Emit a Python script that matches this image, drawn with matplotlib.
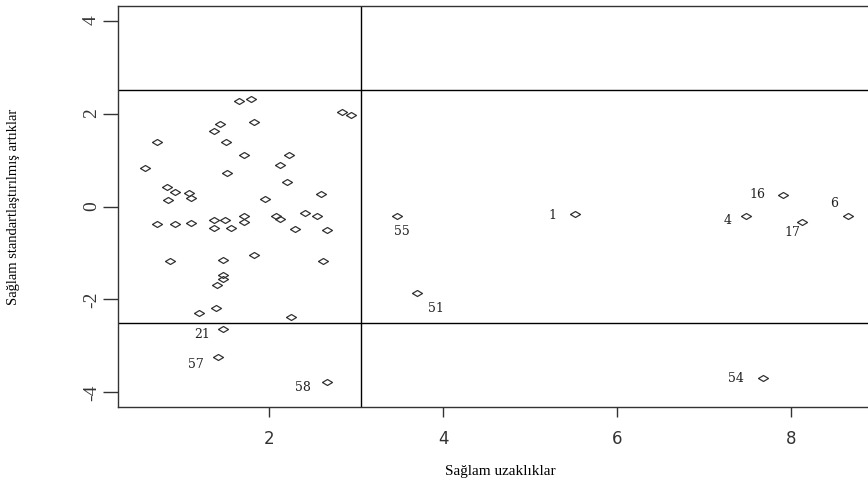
"""
Robust distance–residual diagnostic plot (Sağlam uzaklıklar vs. standartlaştırılmış artıklar).
"""
import matplotlib
matplotlib.use("Agg")
import matplotlib.pyplot as plt

plt.rcParams["axes.unicode_minus"] = False

# ---------------------------------------------------------------------------
# Data
# ---------------------------------------------------------------------------
# unlabelled observations: robust distance, robust standardized residual
dist = [1.651, 1.786, 2.840, 2.936, 1.436, 1.824, 1.367, 0.705, 1.499, 1.709,
        2.223, 0.570, 2.123, 1.517, 2.204, 0.820, 0.919, 1.080, 1.103, 0.835,
        1.951, 2.595, 0.705, 0.919, 1.103, 1.367, 1.487, 1.709, 1.709, 2.074,
        2.123, 2.411, 2.545, 1.367, 1.560, 2.296, 2.660, 0.858, 1.464, 1.824,
        2.614, 1.464, 1.464, 1.402, 1.195, 1.387, 2.253]
resid = [2.273, 2.310, 2.037, 1.978, 1.785, 1.822, 1.634, 1.391, 1.391, 1.118,
         1.118, 0.839, 0.903, 0.718, 0.531, 0.417, 0.316, 0.295, 0.187, 0.144,
         0.166, 0.273, -0.372, -0.372, -0.351, -0.286, -0.286, -0.206, -0.329, -0.194,
         -0.265, -0.135, -0.200, -0.452, -0.452, -0.480, -0.501, -1.174, -1.153, -1.045,
         -1.174, -1.469, -1.555, -1.684, -2.286, -2.194, -2.387]

# flagged observations (numbered)
lab_ids = ["21", "57", "58", "55", "51", "1", "16", "4", "17", "6", "54"]
lab_dist = [1.471, 1.407, 2.660, 3.472, 3.695, 5.516, 7.905, 7.482, 8.130, 8.659, 7.674]
lab_resid = [-2.645, -3.239, -3.770, -0.194, -1.862, -0.157, 0.252, -0.194, -0.323, -0.194, -3.690]

resid_cut = 2.5      # |standardized residual| cutoff
dist_cut = 3.0575    # sqrt(chi2_{3, 0.975})

# label offsets in points (dx, dy)
LABEL_OFFSETS = {
    "21": (-15.5, -3.8), "57": (-15.6, -5.5), "58": (-16.8, -4.1),
    "55": (3.2, -11.5), "51": (13.9, -10.8), "1": (-16.0, -1.2),
    "16": (-18.0, 0.5), "4": (-13.5, -3.6), "17": (-7.2, -7.6),
    "6": (-10.1, 8.9), "54": (-19.4, 0.0),
}

# flattened open diamond
DIAMOND = [(-1, 0), (0, 0.6), (1, 0), (0, -0.6), (-1, 0)]
PT_COLOR = "#333333"

# ---------------------------------------------------------------------------
# Figure
# ---------------------------------------------------------------------------
fig = plt.figure(figsize=(8.68, 4.83), dpi=100)
ax = fig.add_axes([0.1356, 0.1567, 0.8644, 0.8315])

ax.plot(dist, resid, linestyle="none", marker=DIAMOND, markersize=7.2,
        markerfacecolor="none", markeredgecolor=PT_COLOR, markeredgewidth=0.9)
ax.plot(lab_dist, lab_resid, linestyle="none", marker=DIAMOND, markersize=7.2,
        markerfacecolor="none", markeredgecolor=PT_COLOR, markeredgewidth=0.9)

for name, x, y in zip(lab_ids, lab_dist, lab_resid):
    dx, dy = LABEL_OFFSETS[name]
    ax.annotate(name, (x, y), xytext=(dx, dy), textcoords="offset points",
                ha="center", va="center", fontsize=9, family="DejaVu Serif",
                color="#222222")

ax.axhline(resid_cut, color="black", linewidth=1.0)
ax.axhline(-resid_cut, color="black", linewidth=1.0)
ax.axvline(dist_cut, color="black", linewidth=1.0)

ax.set_xlim(0.256, 8.886)
ax.set_ylim(-4.32, 4.32)
ax.set_xticks([2, 4, 6, 8])
ax.set_yticks([-4, -2, 0, 2, 4])

for spine in ax.spines.values():
    spine.set_color("#333333")
    spine.set_linewidth(1.0)
ax.spines["right"].set_visible(False)

ax.tick_params(axis="x", direction="out", length=7.2, width=1.0, pad=9,
               labelsize=12, colors="#333333")
ax.tick_params(axis="y", direction="out", length=10.8, width=1.0, pad=2,
               labelsize=14, colors="#333333")
for lbl in ax.get_yticklabels():
    lbl.set_rotation(90)
    lbl.set_va("center")
    lbl.set_family("Liberation Serif")

ax.set_xlabel("Sağlam uzaklıklar", fontsize=11, family="Liberation Serif")
ax.xaxis.set_label_coords(0.51, -0.144)
ax.set_ylabel("Sağlam standartlaştırılmış artıklar", fontsize=10.5,
              family="Liberation Serif")
ax.yaxis.set_label_coords(-0.130, 0.50)

fig.savefig("out.png", dpi=100, facecolor="white")
